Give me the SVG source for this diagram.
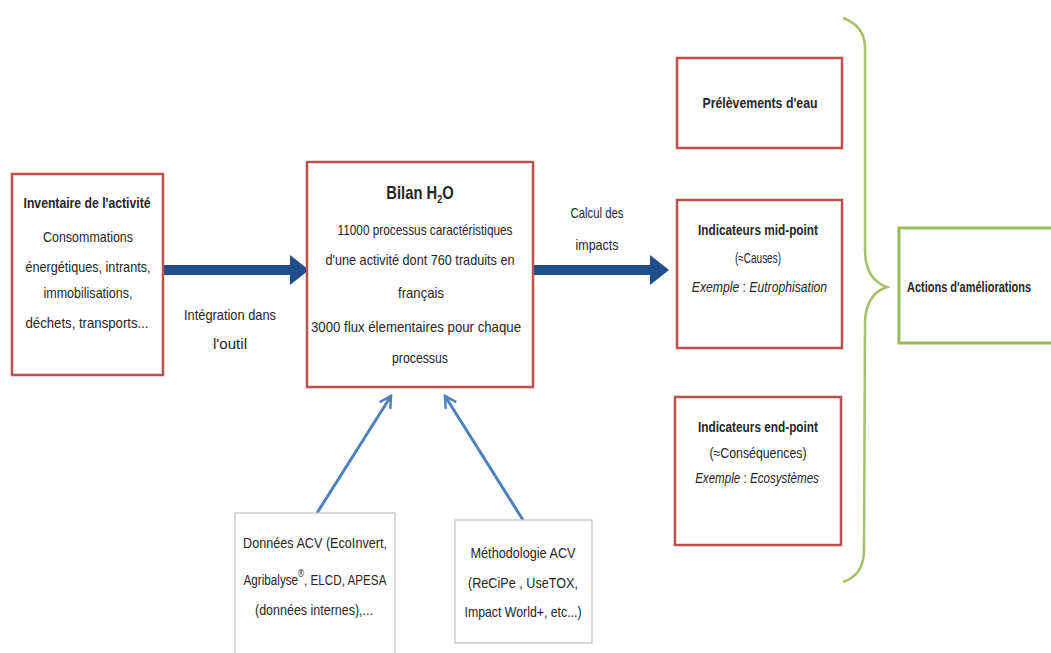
<svg xmlns="http://www.w3.org/2000/svg" width="1051" height="653" viewBox="0 0 1051 653">
<style>
text{font-family:"Liberation Sans",Arial,sans-serif;font-size:14.5px;fill:#262626;text-anchor:middle}
.b{font-weight:bold;font-size:14px}
.i{font-style:italic}
.red{fill:#fff;stroke:#c0504d;stroke-width:2.5}
.grn{fill:#fff;stroke:#9bbb59;stroke-width:3}
.gry{fill:#fff;stroke:#bfbfbf;stroke-width:1.2}
.thin{fill:none;stroke:#4f81bd;stroke-width:3;marker-end:url(#open)}
.big{fill:#1f4e8c}
</style>
<defs>
<marker id="open" viewBox="0 0 12 12" refX="10" refY="6" markerWidth="5" markerHeight="5" orient="auto" markerUnits="strokeWidth">
<path d="M1,1 L10,6 L1,11" fill="none" stroke="#4f81bd" stroke-width="2"/>
</marker>
</defs>
<rect width="1051" height="653" fill="#fff"/>
<g id="connectors">
<path class="big" d="M163,265 L290,265 L290,255 L309,270 L290,285 L290,275 L163,275 Z"/>
<path class="big" d="M533,265 L650,265 L650,255 L669,270 L650,285 L650,275 L533,275 Z"/>
<line class="thin" x1="317" y1="513" x2="391" y2="396"/>
<line class="thin" x1="523" y1="520" x2="445" y2="396"/>
<path d="M843,18 Q865,26 865,48 L865,252 Q866,280 887,287 Q866,294 865,322 L864,550 Q864,575 843,582" fill="none" stroke="#a7c06a" stroke-width="2.5"/>
<text x="230" y="320" textLength="92" lengthAdjust="spacingAndGlyphs">Intégration dans</text>
<text x="230" y="349" textLength="34" lengthAdjust="spacingAndGlyphs">l'outil</text>
<text x="597" y="218" textLength="53" lengthAdjust="spacingAndGlyphs">Calcul des</text>
<text x="597" y="250" textLength="43" lengthAdjust="spacingAndGlyphs">impacts</text>
</g>
<g id="inventaire">
<rect class="red" x="12" y="174" width="151" height="201"/>
<text class="b" x="87" y="208" textLength="127" lengthAdjust="spacingAndGlyphs">Inventaire de l'activité</text>
<text x="88" y="242" textLength="90" lengthAdjust="spacingAndGlyphs">Consommations</text>
<text x="88" y="272" textLength="125" lengthAdjust="spacingAndGlyphs">énergétiques, intrants,</text>
<text x="88" y="298" textLength="89" lengthAdjust="spacingAndGlyphs">immobilisations,</text>
<text x="87" y="328" textLength="123" lengthAdjust="spacingAndGlyphs">déchets, transports...</text>
</g>
<g id="bilan">
<rect class="red" x="307" y="162" width="226" height="225"/>
<g transform="translate(420,199) scale(0.82,1)"><text class="b" x="0" y="0" style="font-size:18px">Bilan H<tspan style="font-size:11px" dy="4">2</tspan><tspan dy="-4">O</tspan></text></g>
<text x="425" y="235" textLength="175" lengthAdjust="spacingAndGlyphs">11000 processus caractéristiques</text>
<text x="420" y="265" textLength="189" lengthAdjust="spacingAndGlyphs">d'une activité dont 760  traduits en</text>
<text x="421" y="298" textLength="46" lengthAdjust="spacingAndGlyphs">français</text>
<text x="416" y="332" textLength="210" lengthAdjust="spacingAndGlyphs">3000 flux élementaires pour chaque</text>
<text x="420" y="363" textLength="56" lengthAdjust="spacingAndGlyphs">processus</text>
</g>
<g id="prelevements">
<rect class="red" x="677" y="58" width="165" height="90"/>
<text class="b" x="760" y="108" textLength="115" lengthAdjust="spacingAndGlyphs">Prélèvements d'eau</text>
</g>
<g id="midpoint">
<rect class="red" x="677" y="200" width="165" height="148"/>
<text class="b" x="758" y="235" textLength="120" lengthAdjust="spacingAndGlyphs">Indicateurs mid-point</text>
<text x="758" y="263" textLength="46" lengthAdjust="spacingAndGlyphs">(≈Causes)</text>
<g transform="translate(759.5,292) scale(0.84,1)"><text x="0" y="0"><tspan class="i">Exemple</tspan> : <tspan class="i">Eutrophisation</tspan></text></g>
</g>
<g id="endpoint">
<rect class="red" x="675" y="397" width="166" height="148"/>
<text class="b" x="758" y="432" textLength="120" lengthAdjust="spacingAndGlyphs">Indicateurs end-point</text>
<text x="758" y="458" textLength="97" lengthAdjust="spacingAndGlyphs">(≈Conséquences)</text>
<g transform="translate(757,483) scale(0.8,1)"><text x="0" y="0"><tspan class="i">Exemple</tspan> : <tspan class="i">Ecosystèmes</tspan></text></g>
</g>
<g id="actions">
<rect class="grn" x="899" y="228" width="160" height="115"/>
<text class="b" x="969" y="292" textLength="124" lengthAdjust="spacingAndGlyphs">Actions d'améliorations</text>
</g>
<g id="donnees">
<rect class="gry" x="235" y="513" width="160" height="150"/>
<text x="315" y="548" textLength="144" lengthAdjust="spacingAndGlyphs">Données ACV (EcoInvert,</text>
<g transform="translate(315,585) scale(0.806,1)"><text x="0" y="0">Agribalyse<tspan style="font-size:10px" dy="-8">®</tspan><tspan dy="8">, ELCD, APESA</tspan></text></g>
<text x="314" y="615" textLength="118" lengthAdjust="spacingAndGlyphs">(données internes),...</text>
</g>
<g id="methodologie">
<rect class="gry" x="455" y="520" width="137" height="123"/>
<text x="523" y="558" textLength="105" lengthAdjust="spacingAndGlyphs">Méthodologie ACV</text>
<text x="523" y="588" textLength="110" lengthAdjust="spacingAndGlyphs">(ReCiPe , UseTOX,</text>
<text x="523" y="617" textLength="117" lengthAdjust="spacingAndGlyphs">Impact World+, etc...)</text>
</g>
</svg>
